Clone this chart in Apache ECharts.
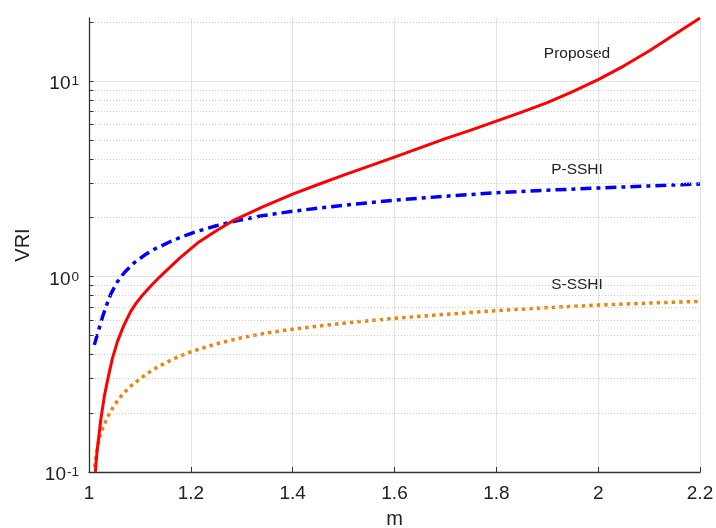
<!DOCTYPE html>
<html>
<head>
<meta charset="utf-8">
<script src="https://cdn.jsdelivr.net/npm/echarts@6/dist/echarts.min.js"></script>
<style>
html, body { margin: 0; padding: 0; background: #fff; }
#main { width: 716px; height: 528px; }
</style>
</head>
<body>
<div id="main"></div>
<script>
// log-axis decades, minor lines and ticks
var yMajor = [1, 10];
var yMinor = [0.2, 0.3, 0.4, 0.5, 0.6, 0.7, 0.8, 0.9, 2, 3, 4, 5, 6, 7, 8, 9, 20];
var yTicks = [0.1, 0.2, 0.3, 0.4, 0.5, 0.6, 0.7, 0.8, 0.9, 1, 2, 3, 4, 5, 6, 7, 8, 9, 10, 20];

// Proposed
var mProposed = [1.0125, 1.016, 1.0235, 1.03, 1.037, 1.046, 1.056, 1.068, 1.082, 1.093, 1.105, 1.12, 1.138, 1.178, 1.213, 1.25, 1.286, 1.34, 1.4, 1.45, 1.5, 1.55, 1.6, 1.7, 1.75, 1.8, 1.85, 1.9, 1.95, 2.0, 2.05, 2.1, 2.15, 2.2];
var vProposed = [0.1, 0.1285, 0.188, 0.243, 0.2994, 0.3814, 0.4658, 0.559, 0.6636, 0.7334, 0.8014, 0.8857, 0.9906, 1.242, 1.483, 1.714, 1.95, 2.262, 2.636, 2.955, 3.298, 3.667, 4.076, 5.07, 5.61, 6.23, 6.93, 7.75, 8.83, 10.17, 11.92, 14.23, 17.29, 21];
// P-SSHI
var mPSSHI = [1.0105, 1.015, 1.02, 1.027, 1.035, 1.043, 1.055, 1.07, 1.09, 1.11, 1.13, 1.155, 1.18, 1.21, 1.25, 1.29, 1.34, 1.4, 1.5, 1.6, 1.7, 1.8, 1.9, 2.0, 2.1, 2.2];
var vPSSHI = [0.447, 0.491, 0.543, 0.626, 0.72, 0.815, 0.934, 1.051, 1.182, 1.291, 1.386, 1.488, 1.587, 1.694, 1.818, 1.929, 2.046, 2.157, 2.315, 2.456, 2.574, 2.683, 2.763, 2.835, 2.907, 2.972];
// S-SSHI
var mSSSHI = [1.011, 1.015, 1.02, 1.027, 1.037, 1.05, 1.065, 1.08, 1.1, 1.125, 1.15, 1.175, 1.2, 1.25, 1.3, 1.35, 1.4, 1.5, 1.6, 1.7, 1.8, 1.9, 2.0, 2.1, 2.2];
var vSSSHI = [0.106, 0.1266, 0.1476, 0.168, 0.1924, 0.2203, 0.2479, 0.2724, 0.2994, 0.3329, 0.3614, 0.388, 0.4116, 0.4522, 0.4865, 0.5148, 0.5378, 0.5772, 0.6109, 0.6404, 0.6689, 0.6931, 0.7141, 0.7311, 0.7464];

function pairs(xs, ys) {
    var res = [];
    for (var i = 0; i < xs.length; i++) {
        res.push([xs[i], ys[i]]);
    }
    return res;
}

var font = '"Liberation Sans", Arial, sans-serif';
var chart = echarts.init(document.getElementById('main'));

// grid lines and little inward ticks on the log axis
var gridLines = [];
for (var i = 0; i < yMajor.length; i++) {
    gridLines.push({ yAxis: yMajor[i], lineStyle: { color: '#e2e2e2', type: 'solid', width: 1 } });
}
for (var j = 0; j < yMinor.length; j++) {
    gridLines.push({ yAxis: yMinor[j], lineStyle: { color: '#cccccc', type: [1, 2], width: 1 } });
}
var tickLines = [];
for (var k = 0; k < yTicks.length; k++) {
    tickLines.push([
        { coord: [1, yTicks[k]], lineStyle: { color: '#333', type: 'solid', width: 1 } },
        { coord: [1.009, yTicks[k]] }
    ]);
}

option = {
    animation: false,
    backgroundColor: '#fff',
    grid: {
        left: 89,
        right: 16,
        top: 18,
        bottom: 56,
        outerBoundsMode: 'none'
    },
    xAxis: {
        type: 'value',
        min: 1,
        max: 2.2,
        interval: 0.2,
        name: 'm',
        nameLocation: 'middle',
        nameGap: 37,
        nameTextStyle: { fontSize: 20, color: '#222', fontFamily: font },
        axisLine: { show: true, onZero: false, lineStyle: { color: '#333', width: 1.3 } },
        axisTick: { show: true, inside: true, length: 5, lineStyle: { color: '#333' } },
        axisLabel: { fontSize: 19, color: '#222', margin: 12, fontFamily: font },
        splitLine: { show: true, lineStyle: { color: '#e2e2e2', width: 1 } }
    },
    yAxis: {
        type: 'log',
        logBase: 10,
        min: 0.1,
        max: 21,
        name: 'VRI',
        nameLocation: 'middle',
        nameGap: 48,
        nameTextStyle: { fontSize: 20, color: '#222', fontFamily: font },
        axisLine: { show: true, onZero: false, lineStyle: { color: '#333', width: 1.3 } },
        axisTick: { show: false },
        splitLine: { show: false },
        axisLabel: {
            margin: 10,
            padding: [10, 0, 0, 0],
            fontFamily: font,
            formatter: function (v) {
                var e = Math.round(Math.log(v) / Math.LN10);
                if (Math.abs(v - Math.pow(10, e)) / v > 1e-6) {
                    return '';
                }
                return '{b|10}{s|' + e + '}';
            },
            rich: {
                b: { fontSize: 19, color: '#222', fontFamily: font, lineHeight: 23, verticalAlign: 'top' },
                s: { fontSize: 13.5, color: '#222', fontFamily: font, lineHeight: 13, verticalAlign: 'top', padding: [0, 0, 0, 1] }
            }
        }
    },
    graphic: [
        { type: 'text', x: 577, y: 54, style: { text: 'Proposed', fontSize: 15.5, fontFamily: font, fill: '#222', align: 'center', verticalAlign: 'middle' } },
        { type: 'text', x: 577, y: 170, style: { text: 'P-SSHI', fontSize: 15.5, fontFamily: font, fill: '#222', align: 'center', verticalAlign: 'middle' } },
        { type: 'text', x: 577, y: 285, style: { text: 'S-SSHI', fontSize: 15.5, fontFamily: font, fill: '#222', align: 'center', verticalAlign: 'middle' } }
    ],
    series: [
        {
            name: 'grid',
            type: 'line',
            data: [],
            silent: true,
            z: 1,
            markLine: {
                silent: true,
                symbol: 'none',
                label: { show: false },
                animation: false,
                data: gridLines.concat(tickLines)
            }
        },
        {
            name: 'S-SSHI',
            type: 'line',
            data: pairs(mSSSHI, vSSSHI),
            showSymbol: false,
            z: 3,
            lineStyle: { color: '#e8870e', width: 3.5, type: [3.5, 4], cap: 'butt' }
        },
        {
            name: 'P-SSHI',
            type: 'line',
            data: pairs(mPSSHI, vPSSHI),
            showSymbol: false,
            z: 4,
            lineStyle: { color: '#0000ff', width: 3.5, type: [11, 5, 4, 5], cap: 'butt' }
        },
        {
            name: 'Proposed',
            type: 'line',
            data: pairs(mProposed, vProposed),
            showSymbol: false,
            z: 5,
            lineStyle: { color: '#ff0000', width: 3, join: 'round' }
        }
    ]
};

chart.setOption(option);
window.addEventListener('resize', function () {
    chart.resize();
});
</script>
</body>
</html>
